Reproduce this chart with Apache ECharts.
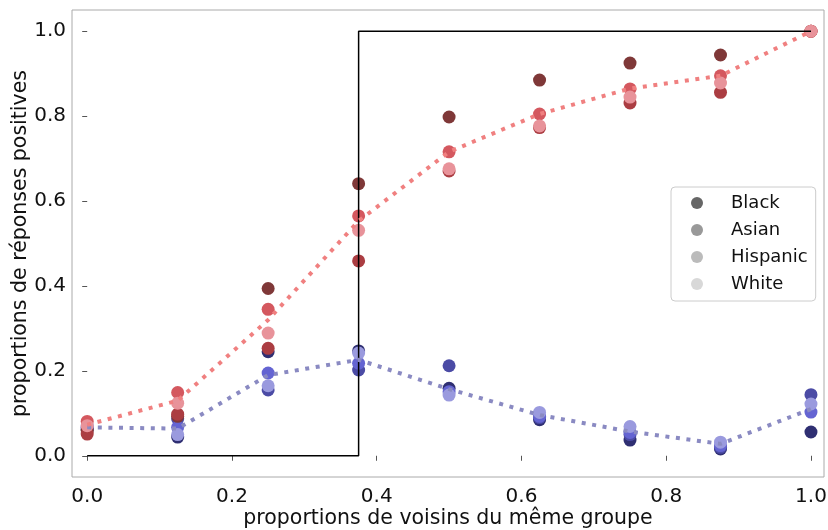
<!DOCTYPE html>
<html>
<head>
<meta charset="utf-8">
<script src="https://cdn.jsdelivr.net/npm/echarts@6/dist/echarts.min.js"></script>
<style>
  html, body { margin: 0; padding: 0; background: #fff; }
  #chart { width: 828px; height: 530px; }
</style>
</head>
<body>
<div id="chart"></div>
<script>
// ---- data ----
const xs = [0, 0.125, 0.25, 0.375, 0.5, 0.625, 0.75, 0.875, 1.0];

const redBlack    = [0.060, 0.093, 0.394, 0.641, 0.798, 0.885, 0.925, 0.944, 1.0];
const redAsian    = [0.051, 0.098, 0.253, 0.459, 0.671, 0.773, 0.831, 0.856, 1.0];
const redHispanic = [0.081, 0.149, 0.345, 0.565, 0.716, 0.805, 0.864, 0.895, 1.0];
const redWhite    = [0.071, 0.124, 0.289, 0.531, 0.676, 0.777, 0.845, 0.878, 1.0];

const blueBlack    = [0.062, 0.044, 0.245, 0.247, 0.159, 0.085, 0.037, 0.016, 0.056];
const blueAsian    = [0.068, 0.087, 0.155, 0.202, 0.212, 0.090, 0.050, 0.020, 0.144];
const blueHispanic = [0.066, 0.067, 0.195, 0.218, 0.151, 0.093, 0.055, 0.024, 0.103];
const blueWhite    = [0.070, 0.050, 0.165, 0.242, 0.143, 0.102, 0.069, 0.032, 0.122];

const redTrend  = [0.073, 0.130, 0.320, 0.553, 0.716, 0.805, 0.865, 0.895, 1.0];
const blueTrend = [0.067, 0.064, 0.190, 0.226, 0.157, 0.096, 0.057, 0.028, 0.110];

const stepX = [0, 0.375, 0.375, 1.0];
const stepY = [0, 0, 1.0, 1.0];

const groups = ['Black', 'Asian', 'Hispanic', 'White'];
const xTicks = [0, 0.2, 0.4, 0.6, 0.8, 1.0];
const yTicks = [0, 0.2, 0.4, 0.6, 0.8, 1.0];

const xTitle = 'proportions de voisins du même groupe';
const yTitle = 'proportions de réponses positives';

// ---- styles ----
const FONT = 'DejaVu Sans';
const redColors  = ['#7f3838', '#ab3d42', '#d4585f', '#e8939a'];
const blueColors = ['#2f2f72', '#4b4ba5', '#6464d2', '#9a9ade'];
const legendColors = ['#666666', '#999999', '#bbbbbb', '#d8d8d8'];

const pairs = (a, b) => a.map((v, i) => [v, b[i]]);

const redSets = [redBlack, redAsian, redHispanic, redWhite];
const blueSets = [blueBlack, blueAsian, blueHispanic, blueWhite];

const series = [];
series.push({
  type: 'line', name: 'threshold', data: pairs(stepX, stepY),
  symbol: 'none', lineStyle: { color: '#000', width: 1.5 }, silent: true
});
series.push({
  type: 'line', name: 'blueTrend', data: pairs(xs, blueTrend), symbol: 'none',
  lineStyle: { color: '#8a8ac2', width: 4, type: [4, 6.6], cap: 'butt' }, silent: true
});
series.push({
  type: 'line', name: 'redTrend', data: pairs(xs, redTrend), symbol: 'none',
  lineStyle: { color: '#f08080', width: 4, type: [4, 6.6], cap: 'butt' }, silent: true
});
blueSets.forEach((s, i) => series.push({
  type: 'scatter', name: groups[i], data: pairs(xs, s), symbol: 'circle', symbolSize: 13,
  itemStyle: { color: blueColors[i], opacity: 1 }
}));
redSets.forEach((s, i) => series.push({
  type: 'scatter', name: groups[i], data: pairs(xs, s), symbol: 'circle', symbolSize: 13,
  itemStyle: { color: redColors[i], opacity: 1 }
}));

const chart = echarts.init(document.getElementById('chart'), null, { renderer: 'canvas' });
chart.setOption({
  animation: false,
  backgroundColor: '#ffffff',
  grid: {
    left: 72, right: 4, top: 10, bottom: 53,
    containLabel: false, outerBoundsMode: 'none',
    show: true, borderColor: '#aaaaaa', borderWidth: 1, backgroundColor: 'transparent'
  },
  xAxis: {
    type: 'value', min: -0.021, max: 1.018,
    name: xTitle, nameLocation: 'middle', nameGap: 31, nameMoveOverlap: false,
    nameTextStyle: { fontFamily: FONT, fontSize: 20.5, color: '#111' },
    axisLine: { show: false },
    splitLine: { show: false },
    axisTick: { show: true, length: 5, inside: false, customValues: xTicks,
                lineStyle: { color: '#555', width: 1 } },
    axisLabel: { customValues: xTicks, margin: 10, fontFamily: FONT, fontSize: 20, color: '#111',
                 formatter: v => v.toFixed(1) }
  },
  yAxis: {
    type: 'value', min: -0.05, max: 1.05,
    name: yTitle, nameLocation: 'middle', nameGap: 41, nameRotate: 90, nameMoveOverlap: false,
    nameTextStyle: { fontFamily: FONT, fontSize: 20.5, color: '#111' },
    axisLine: { show: false },
    splitLine: { show: false },
    axisTick: { show: true, length: 5, inside: false, customValues: yTicks,
                lineStyle: { color: '#555', width: 1 } },
    axisLabel: { customValues: yTicks, margin: 6, fontFamily: FONT, fontSize: 20, color: '#111',
                 formatter: v => v.toFixed(1) }
  },
  legend: {
    show: true, orient: 'vertical', left: 671, top: 187,
    padding: [7, 8, 8, 20], itemGap: 9,
    itemWidth: 30, itemHeight: 12, icon: 'circle',
    borderColor: '#cccccc', borderWidth: 1, borderRadius: 4,
    backgroundColor: 'rgba(255,255,255,0.85)',
    selectedMode: false,
    textStyle: { fontFamily: FONT, fontSize: 18, color: '#111', padding: [0, 0, 0, 14] },
    data: groups.map((g, i) => ({ name: g, itemStyle: { color: legendColors[i] } }))
  },
  series: series
});
</script>
</body>
</html>
